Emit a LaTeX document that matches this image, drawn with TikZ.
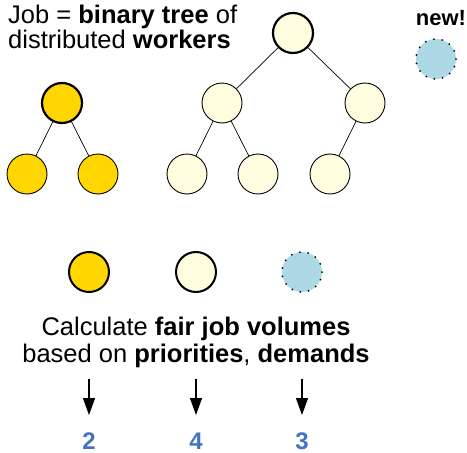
\documentclass[tikz,border=0pt]{standalone}
\usepackage{fontspec}
\setmainfont{Liberation Sans}
\usetikzlibrary{arrows.meta, positioning}
\definecolor{gold}{RGB}{255,214,0}
\definecolor{cream}{RGB}{255,253,224}
\definecolor{skyblue}{RGB}{173,216,230}
\definecolor{volblue}{RGB}{68,114,196}
\tikzstyle{worker} = [circle, draw=black, line width=0.9pt, minimum size=40pt, inner sep=0pt]
\tikzstyle{root} = [worker, line width=2.2pt]
\tikzstyle{spare} = [worker, fill=skyblue, line width=2pt, dash pattern=on 0pt off 8.4pt, line cap=round]
\tikzstyle{link} = [line width=0.7pt]
\tikzstyle{arrow} = [line width=1.2pt, -{Triangle[length=17pt, width=12pt]}]
\tikzstyle{txt} = [inner sep=0pt, font=\fontsize{25.5}{25}\selectfont]
\tikzstyle{volume} = [txt, font=\bfseries\fontsize{24}{26}\selectfont, text=volblue, anchor=base]

\begin{document}
\begin{tikzpicture}[x=1pt, y=-1pt, node distance = 10pt]
		\useasboundingbox (0,0) rectangle (467,453);
		\node (Title) [txt, align=left, anchor=base west] at (8,48) {Job = \textbf{binary tree} of\\distributed \textbf{workers}};
		% first job: small tree
		\node (SmallRoot) [root, fill=gold] at (62,103) {};
		\node (SmallLeft) [worker, fill=gold] at (27,174) {};
		\node (SmallRight) [worker, fill=gold] at (98,174) {};
		\draw [link] (SmallRoot) -- (SmallLeft);
		\draw [link] (SmallRoot) -- (SmallRight);
		% second job: big tree
		\node (BigRoot) [root, fill=cream] at (293,33) {};
		\node (BigLeft) [worker, fill=cream] at (222,103) {};
		\node (BigRight) [worker, fill=cream] at (365,103) {};
		\node (BigLL) [worker, fill=cream] at (187,174) {};
		\node (BigLR) [worker, fill=cream] at (258,174) {};
		\node (BigRL) [worker, fill=cream] at (330,174) {};
		\draw [link] (BigRoot) -- (BigLeft);
		\draw [link] (BigRoot) -- (BigRight);
		\draw [link] (BigLeft) -- (BigLL);
		\draw [link] (BigLeft) -- (BigLR);
		\draw [link] (BigRight) -- (BigRL);
		% incoming job
		\node (NewJob) [spare] at (436,59) {};
		\node (NewText) [txt, font=\bfseries\fontsize{22}{22}\selectfont, anchor=base] at (441,25) {new!};
		% one circle per job
		\node (JobA) [worker, fill=gold, line width=2pt] at (89,272) {};
		\node (JobB) [worker, fill=cream, line width=2pt] at (196,272) {};
		\node (JobC) [spare] at (302,272) {};
		\node (Calc) [txt, font=\fontsize{25.5}{27}\selectfont, align=center, anchor=base] at (196,362) {Calculate \textbf{fair job volumes}\\based on \textbf{priorities}, \textbf{demands}};
		\node (VolA) [volume] at (89,449) {2};
		\node (VolB) [volume] at (196,449) {4};
		\node (VolC) [volume] at (302,449) {3};
		\coordinate (TopA) at (89,379);
		\coordinate (TopB) at (196,379);
		\coordinate (TopC) at (302,379);
		\coordinate (TipA) at (89,415);
		\coordinate (TipB) at (196,415);
		\coordinate (TipC) at (302,415);
		\draw [arrow] (TopA) -- (TipA);
		\draw [arrow] (TopB) -- (TipB);
		\draw [arrow] (TopC) -- (TipC);
\end{tikzpicture}
\end{document}
